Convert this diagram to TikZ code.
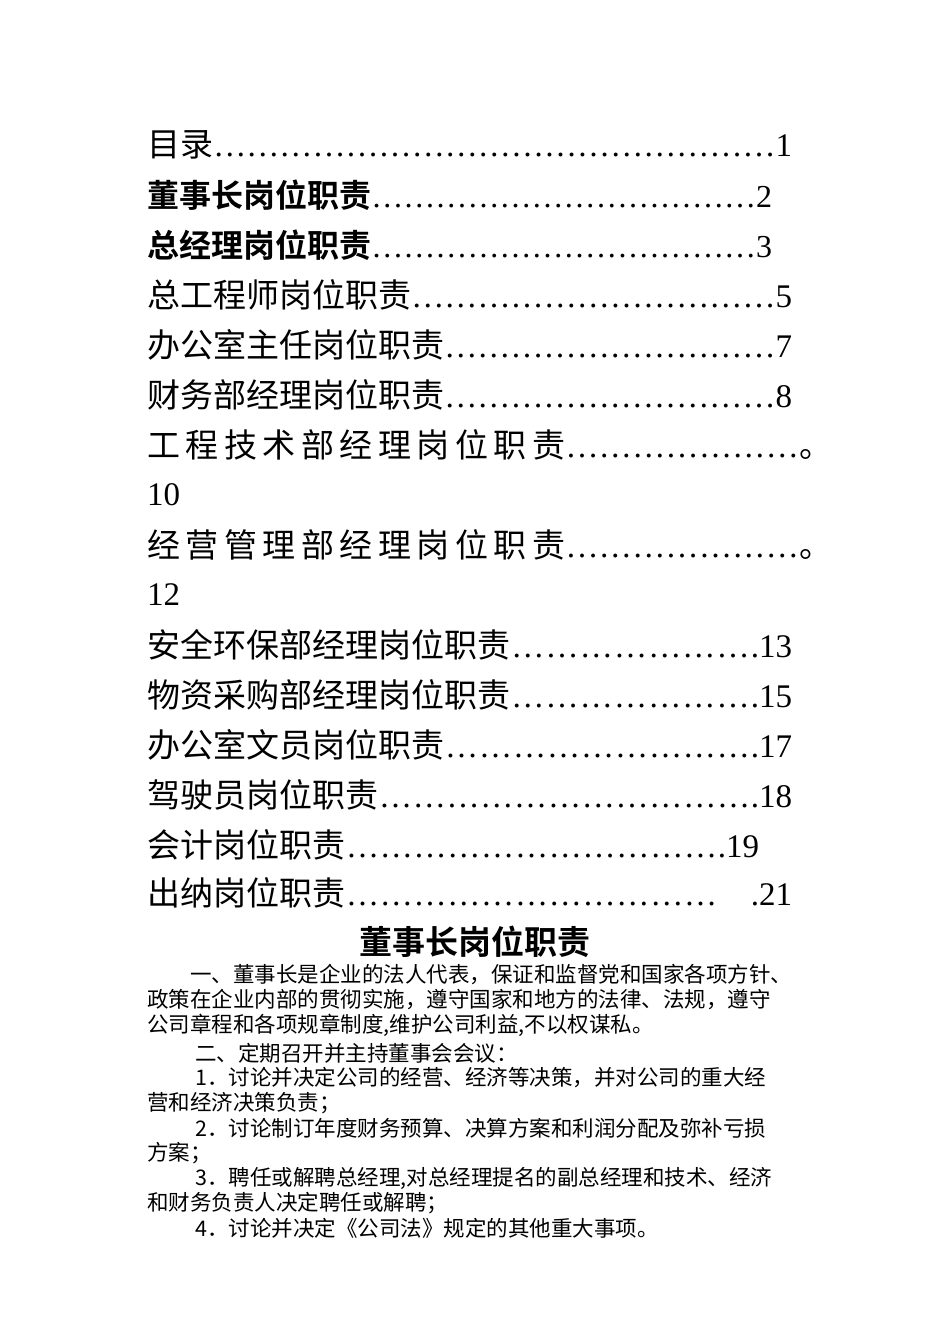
\documentclass[tikz,border=0pt]{standalone}
\usepackage{fontspec}
\setmainfont{Liberation Serif}
\newfontfamily\cjk{Noto Sans CJK SC}
\newfontfamily\cjkb{Noto Sans CJK SC Bold}
\begin{document}
\begin{tikzpicture}[x=1pt,y=-1pt,
  toc/.style={anchor=west,inner sep=0pt,font=\fontsize{33}{38}\selectfont\cjk},
  body/.style={anchor=west,inner sep=0pt,font=\fontsize{21.5}{25}\selectfont\cjk}]
\useasboundingbox[fill=white] (0,0) rectangle (950,1344);
\newcommand{\tl}[3]{\hbox to #1pt{#2\xleaders\hbox{\rmfamily …}\hfill {\rmfamily #3}}}
\node[toc] (t1) at (147,145) {\tl{645}{目录}{1}};
\node[toc,font=\fontsize{32}{36}\selectfont\cjkb] (t2) at (147,195) {\tl{625}{董事长岗位职责}{2}};
\node[toc,font=\fontsize{32}{36}\selectfont\cjkb] (t3) at (147,245) {\tl{625}{总经理岗位职责}{3}};
\node[toc] (t4) at (147,295) {\tl{645}{总工程师岗位职责}{5}};
\node[toc] (t5) at (147,345) {\tl{645}{办公室主任岗位职责}{7}};
\node[toc] (t6) at (147,395) {\tl{645}{财务部经理岗位职责}{8}};
\node[toc] (t7) at (147,445) {\tl{685}{工\,程\,技\,术\,部\,经\,理\,岗\,位\,职\,责}{\cjk 。}};
\node[toc] (t7b) at (147,495) {\rmfamily 10};
\node[toc] (t8) at (147,545) {\tl{685}{经\,营\,管\,理\,部\,经\,理\,岗\,位\,职\,责}{\cjk 。}};
\node[toc] (t8b) at (147,595) {\rmfamily 12};
\node[toc] (t9) at (147,645) {\tl{645}{安全环保部经理岗位职责}{.13}};
\node[toc] (t10) at (147,695) {\tl{645}{物资采购部经理岗位职责}{.15}};
\node[toc] (t11) at (147,745) {\tl{645}{办公室文员岗位职责}{.17}};
\node[toc] (t12) at (147,795) {\tl{645}{驾驶员岗位职责}{.18}};
\node[toc] (t13) at (147,845) {\tl{612}{会计岗位职责}{.19}};
\node[toc] (t14) at (147,893) {\tl{645}{出纳岗位职责}{\quad .21}};
\node[inner sep=0pt,font=\fontsize{33}{38}\selectfont\cjkb] (h) at (475,942) {董事长岗位职责};
\node[body] (b1) at (190,975) {一、董事长是企业的法人代表，保证和监督党和国家各项方针、};
\node[body] (b2) at (147,1000) {政策在企业内部的贯彻实施，遵守国家和地方的法律、法规，遵守};
\node[body] (b3) at (147,1025) {公司章程和各项规章制度,维护公司利益,不以权谋私。};
\node[body] (b4) at (195,1053) {二、定期召开并主持董事会会议：};
\node[body] (b5) at (195,1078) {1．讨论并决定公司的经营、经济等决策，并对公司的重大经};
\node[body] (b6) at (147,1103) {营和经济决策负责；};
\node[body] (b7) at (195,1128) {2．讨论制订年度财务预算、决算方案和利润分配及弥补亏损};
\node[body] (b8) at (147,1153) {方案；};
\node[body] (b9) at (195,1178) {3．聘任或解聘总经理,对总经理提名的副总经理和技术、经济};
\node[body] (b10) at (147,1203) {和财务负责人决定聘任或解聘；};
\node[body] (b11) at (195,1228) {4．讨论并决定《公司法》规定的其他重大事项。};
\end{tikzpicture}
\end{document}
